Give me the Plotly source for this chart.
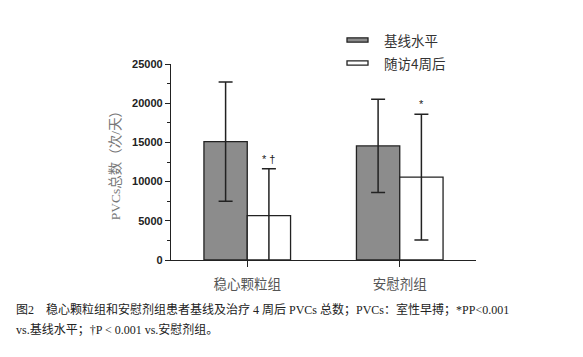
import plotly.graph_objects as go

categories = ["稳心颗粒组", "安慰剂组"]
series_names = ["基线水平", "随访4周后"]
baseline_mean = [15100, 14550]
baseline_sd = [7620, 5940]
followup_mean = [5650, 10570]
followup_sd = [5980, 8020]
sig_marks = ["* †", "*"]
caption_lines = [
    "图2　稳心颗粒组和安慰剂组患者基线及治疗 4 周后 PVCs 总数；PVCs：室性早搏；*PP<0.001",
    "vs.基线水平；†P < 0.001 vs.安慰剂组。",
]
y_title = "PVCs总数（次/天）"

W, H = 583, 357
L, R, T, B = 171, 107, 64, 97
BARGAP = 0.432
GREY = "#8c8c8c"
EDGE = "#222222"

pw = W - L - R
ph = H - T - B


def px_x(p):
    return (p - L) / pw


def px_y(p):
    return (H - B - p) / ph


fig = go.Figure()
fig.add_trace(go.Bar(
    x=categories, y=baseline_mean, name=series_names[0],
    marker=dict(color=GREY, line=dict(color=EDGE, width=1.3)),
    error_y=dict(type="data", array=baseline_sd, visible=True,
                 color=EDGE, thickness=1.5, width=7),
    showlegend=False,
))
fig.add_trace(go.Bar(
    x=categories, y=followup_mean, name=series_names[1],
    marker=dict(color="white", line=dict(color=EDGE, width=1.3)),
    error_y=dict(type="data", array=followup_sd, visible=True,
                 color=EDGE, thickness=1.5, width=7),
    showlegend=False,
))

annotations = []
offset = (1 - BARGAP) / 4
for i, mark in enumerate(sig_marks):
    annotations.append(dict(
        x=i + offset, y=followup_mean[i] + followup_sd[i], xref="x", yref="y",
        text=mark, showarrow=False, yanchor="bottom", yshift=2,
        font=dict(family="Liberation Sans, DejaVu Sans", size=11, color="#222"),
    ))

# custom legend (flat boxes like the original)
legend_rows = [40, 63]
fills = [GREY, "white"]
shapes = []
for name, yc, fc in zip(series_names, legend_rows, fills):
    shapes.append(dict(
        type="rect", xref="paper", yref="paper",
        x0=px_x(347), x1=px_x(368), y0=px_y(yc + 2.2), y1=px_y(yc - 2.2),
        fillcolor=fc, line=dict(color=EDGE, width=1.3),
    ))
    annotations.append(dict(
        x=px_x(382), y=px_y(yc), xref="paper", yref="paper",
        text=name, showarrow=False, xanchor="left", yanchor="middle",
        font=dict(family="Noto Sans CJK SC", size=13.5, color="#333"),
    ))

cap_y = [309, 329]
for line, yc in zip(caption_lines, cap_y):
    annotations.append(dict(
        x=px_x(14), y=px_y(yc), xref="paper", yref="paper",
        text=line, showarrow=False, xanchor="left", yanchor="middle",
        font=dict(family="Liberation Serif, Noto Sans CJK SC", size=12, color="#222"),
    ))

fig.update_layout(
    width=W, height=H,
    margin=dict(l=L, r=R, t=T, b=B, pad=0),
    paper_bgcolor="white", plot_bgcolor="white",
    barmode="group", bargap=BARGAP, bargroupgap=0,
    annotations=annotations, shapes=shapes,
    showlegend=False,
)
fig.update_xaxes(
    range=[-0.5, 1.5], showline=True, linecolor=EDGE, linewidth=1.3,
    ticks="outside", ticklen=6, tickwidth=1.3, tickcolor=EDGE,
    ticklabelstandoff=6, showgrid=False, zeroline=False,
    tickfont=dict(family="Noto Sans CJK SC", size=13.5, color="#555"),
)
fig.update_yaxes(
    range=[0, 25000], dtick=5000, tickformat="d", showline=True, linecolor=EDGE, linewidth=1.3,
    ticks="outside", ticklen=5, tickwidth=1.3, tickcolor=EDGE,
    minor=dict(dtick=2500, ticks="outside", ticklen=3, tickwidth=1.1, tickcolor=EDGE, showgrid=False),
    showgrid=False, zeroline=False,
    tickfont=dict(family="Liberation Sans", size=11, color="#222", weight="bold"),
    title=dict(text=y_title, standoff=8,
               font=dict(family="Liberation Serif, Noto Sans CJK SC", size=13.5, color="#777")),
)

fig.write_html("out.html", config={"displayModeBar": False},
               post_script="document.body.style.margin='0';document.body.style.padding='0';")
